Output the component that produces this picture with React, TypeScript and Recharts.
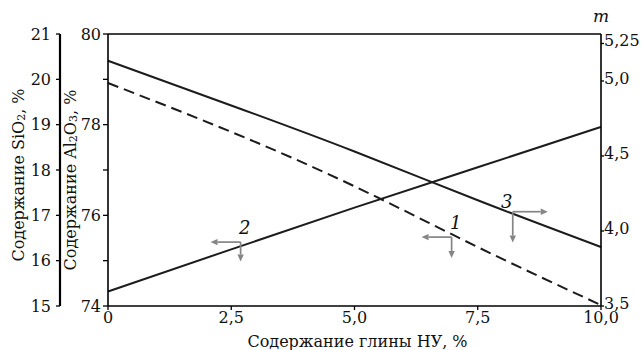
import { ComposedChart, Line, XAxis, YAxis, ReferenceLine, ReferenceDot } from "recharts";

// clay content, %
const clay = [0, 2.5, 5, 7.5, 10];
// curve 2 – SiO2, %
const sio2 = [15.32, 16.25, 17.17, 18.06, 18.95];
// curve 1 – Al2O3, %
const al2o3 = [78.92, 77.84, 76.64, 75.3, 74.02];
// curve 3 – modulus m
const modulus = [5.135, 4.837, 4.53, 4.205, 3.893];

const xTicks = [0, 2.5, 5, 7.5, 10];
const sioTicks = [15, 16, 17, 18, 19, 20, 21];
const alTicks = [74, 75, 76, 77, 78, 79, 80];
const mTicks = [3.5, 4, 4.5, 5, 5.25];

// curve markers (on the Al2O3 scale): label, junction point, arrow ends
const markName = ["1", "2", "3"];
const markX = [6.97, 2.69, 8.21];
const markY = [75.52, 75.41, 76.08];
const markArrowX = [6.36, 2.08, 8.92];
const markArrowY = [75.06, 74.98, 75.4];

const data = clay.map((x, i) => ({ x, sio2: sio2[i], al: al2o3[i], m: modulus[i] }));

const INK = "#1c1c1c";
const ARROW = "#858585";
const tickStyle = { fontSize: 16, fill: "#111" };
const axisLine = { stroke: "#000", strokeWidth: 1.6 };
const tickLine = { stroke: "#000", strokeWidth: 1.3 };

const comma = (v: number) => {
  if (v === 0) return "0";
  const s = Math.round(v * 10) === v * 10 ? v.toFixed(1) : v.toFixed(2);
  return s.replace(".", ",");
};

const vbOf = (p: any) => p.viewBox ?? p;

const sioTitle = (p: any) => {
  const { x, y, height } = vbOf(p);
  const cx = x + 6;
  const cy = y + height / 2 + 5;
  return (
    <text x={cx} y={cy} transform={`rotate(-90 ${cx} ${cy})`} textAnchor="middle" dominantBaseline="central" fontSize={16} fill="#111">
      Содержание SiO<tspan dy={3} fontSize={11}>2</tspan>
      <tspan dy={-3}>, %</tspan>
    </text>
  );
};

const alTitle = (p: any) => {
  const { x, y, height } = vbOf(p);
  const cx = x + 10;
  const cy = y + height / 2 + 10;
  return (
    <text x={cx} y={cy} transform={`rotate(-90 ${cx} ${cy})`} textAnchor="middle" dominantBaseline="central" fontSize={16} fill="#111">
      Содержание Al<tspan dy={3} fontSize={11}>2</tspan>
      <tspan dy={-3}>O</tspan>
      <tspan dy={3} fontSize={11}>3</tspan>
      <tspan dy={-3}>, %</tspan>
    </text>
  );
};

const mTitle = (p: any) => {
  const { x, y } = vbOf(p);
  return (
    <text x={x} y={y - 12} textAnchor="middle" fontSize={17} fontStyle="italic" fill="#111">
      m
    </text>
  );
};

const xTitle = (p: any) => {
  const { x, y, width } = vbOf(p);
  return (
    <text x={x + width / 2 + 3} y={y + 41} textAnchor="middle" fontSize={16} fill="#111">
      Содержание глины НУ, %
    </text>
  );
};

const arrowShape = (p: any) => {
  const { x1, y1, x2, y2 } = p;
  const a = Math.atan2(y2 - y1, x2 - x1);
  const L = 7;
  const W = 3.2;
  const bx = x2 - L * Math.cos(a);
  const by = y2 - L * Math.sin(a);
  const pts = `${x2},${y2} ${bx - W * Math.sin(a)},${by + W * Math.cos(a)} ${bx + W * Math.sin(a)},${by - W * Math.cos(a)}`;
  return (
    <g>
      <line x1={x1} y1={y1} x2={bx} y2={by} stroke={ARROW} strokeWidth={1.7} />
      <polygon points={pts} fill={ARROW} />
    </g>
  );
};

const nameShape = (name: string, side: number) => (p: any) => (
  <text
    x={p.cx + (side < 0 ? 4 : -6)}
    y={p.cy - (side < 0 ? 8 : 4)}
    textAnchor="middle"
    fontSize={18}
    fontStyle="italic"
    fill="#111"
  >
    {name}
  </text>
);

export default function App() {
  return (
    <div style={{ position: "absolute", left: 0, top: 0, width: 644, height: 350, background: "#fff", fontFamily: "'DejaVu Serif', serif" }}>
      <ComposedChart width={644} height={350} data={data} margin={{ top: 34, right: 0, bottom: 0, left: 12 }}>
        <XAxis
          dataKey="x"
          type="number"
          domain={[0, 10]}
          ticks={xTicks}
          tickFormatter={comma}
          interval={0}
          height={44}
          tick={tickStyle}
          axisLine={axisLine}
          tickLine={tickLine}
          tickSize={4}
          tickMargin={2}
          label={{ content: xTitle }}
        />
        <YAxis
          yAxisId="al"
          orientation="left"
          type="number"
          domain={[74, 80]}
          ticks={alTicks}
          interval={0}
          tickFormatter={(v: number) => (v % 2 === 0 ? String(v) : "")}
          width={48}
          tick={tickStyle}
          axisLine={axisLine}
          tickLine={tickLine}
          tickSize={5}
          tickMargin={2}
          label={{ content: alTitle }}
        />
        <YAxis
          yAxisId="sio"
          orientation="left"
          type="number"
          domain={[15, 21]}
          ticks={sioTicks}
          interval={0}
          width={48}
          tick={tickStyle}
          axisLine={{ stroke: "#000", strokeWidth: 2.2 }}
          tickLine={tickLine}
          tickSize={4}
          tickMargin={5}
          label={{ content: sioTitle }}
        />
        <YAxis
          yAxisId="m"
          orientation="right"
          type="number"
          domain={[3.5, 5.3133]}
          ticks={mTicks}
          interval={0}
          tickFormatter={comma}
          width={43}
          tick={{ ...tickStyle, dy: -3 }}
          axisLine={axisLine}
          tickLine={tickLine}
          tickSize={3}
          tickMargin={0}
          label={{ content: mTitle }}
        />
        <ReferenceLine yAxisId="al" y={80} stroke="#000" strokeWidth={1.6} />

        <Line yAxisId="al" dataKey="al" type="natural" stroke={INK} strokeWidth={2} strokeDasharray="11 6" dot={false} isAnimationActive={false} />
        <Line yAxisId="sio" dataKey="sio2" type="natural" stroke={INK} strokeWidth={2} dot={false} isAnimationActive={false} />
        <Line yAxisId="m" dataKey="m" type="natural" stroke={INK} strokeWidth={2} dot={false} isAnimationActive={false} />

        {markName.map((n, i) => (
          <ReferenceLine
            key={`h${n}`}
            yAxisId="al"
            segment={[{ x: markX[i], y: markY[i] }, { x: markArrowX[i], y: markY[i] }]}
            shape={arrowShape}
          />
        ))}
        {markName.map((n, i) => (
          <ReferenceLine
            key={`v${n}`}
            yAxisId="al"
            segment={[{ x: markX[i], y: markY[i] }, { x: markX[i], y: markArrowY[i] }]}
            shape={arrowShape}
          />
        ))}
        {markName.map((n, i) => (
          <ReferenceDot
            key={`t${n}`}
            yAxisId="al"
            x={markX[i]}
            y={markY[i]}
            r={0}
            shape={nameShape(n, markArrowX[i] - markX[i])}
          />
        ))}
      </ComposedChart>
    </div>
  );
}
